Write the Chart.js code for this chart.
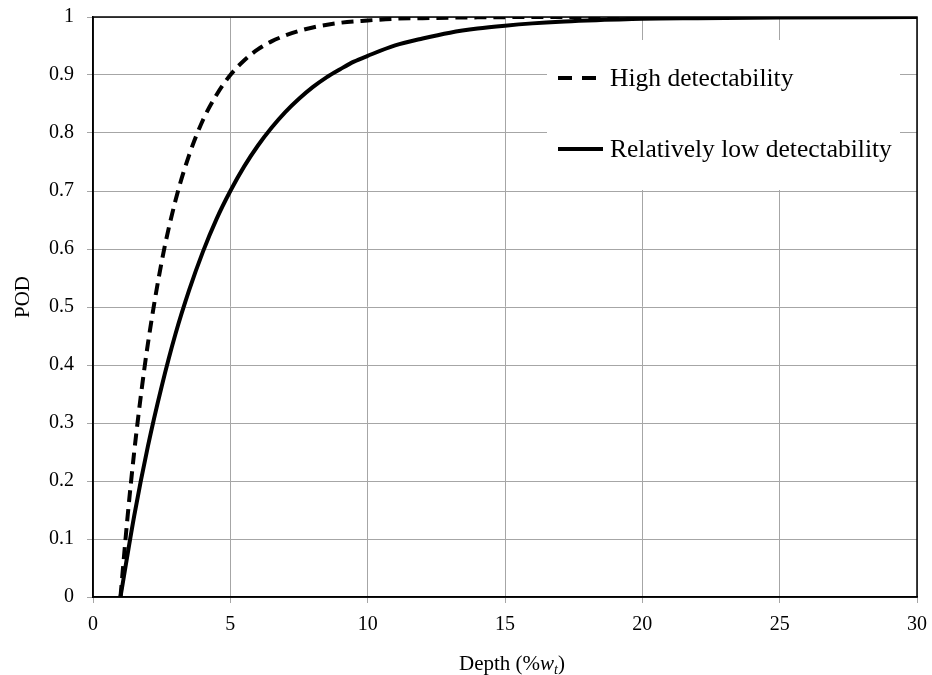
<!DOCTYPE html>
<html>
<head>
<meta charset="utf-8">
<script src="https://cdn.jsdelivr.net/npm/chart.js@4.4.1/dist/chart.umd.min.js"></script>
<style>
  html, body { margin: 0; padding: 0; background: #fff; }
  #wrap { width: 932px; height: 675px; }
</style>
</head>
<body>
<div id="wrap"><canvas id="chart-pod" width="932" height="675"></canvas></div>
<script>
// ── DATA ──
const highDepth = [1, 1.25, 1.5, 1.75, 2, 2.5, 3, 3.5, 4, 4.5, 5, 5.5, 6, 6.5, 7, 7.5, 8, 9, 10, 11, 12, 14, 17, 30];
const highPod   = [0, 0.134, 0.25, 0.35, 0.437, 0.578, 0.683, 0.762, 0.822, 0.866, 0.90, 0.925, 0.944, 0.958, 0.968, 0.976, 0.982, 0.99, 0.994, 0.997, 0.998, 0.9994, 1, 1];

const lowDepth = [1, 1.5, 2, 2.5, 3, 3.5, 4, 4.5, 5, 5.5, 6, 6.5, 7, 7.5, 8, 8.5, 9, 9.5, 10, 11, 12, 13, 14, 15, 16, 17, 18, 20, 22, 25, 30];
const lowPod   = [0, 0.14, 0.26, 0.363, 0.453, 0.529, 0.595, 0.652, 0.70, 0.742, 0.778, 0.809, 0.836, 0.859, 0.879, 0.896, 0.91, 0.923, 0.933, 0.951, 0.963, 0.973, 0.98, 0.985, 0.989, 0.992, 0.994, 0.997, 0.998, 0.999, 1];

const seriesLabels = ['High detectability', 'Relatively low detectability'];
const yTitle = 'POD';
const xTitle = ['Depth (%', 'w', 't', ')'];

const SERIF = '"Liberation Serif", "Times New Roman", serif';
const GRID = '#a6a6a6';

function toPoints(xs, ys) {
    return xs.map((x, i) => ({ x: x, y: ys[i] }));
}

// ── PLUGIN: frame, legend box, axis titles ──
const decorations = {
    id: 'decorations',
    beforeDatasetsDraw(chart) {
        const ctx = chart.ctx;
        ctx.save();
        // legend box (white, covers gridlines)
        ctx.fillStyle = '#fff';
        ctx.fillRect(547, 40, 353, 150);
        chart.data.datasets.forEach((ds, i) => {
            const y = 78 + i * 71;
            ctx.beginPath();
            ctx.lineWidth = 4;
            ctx.strokeStyle = ds.borderColor;
            ctx.setLineDash(ds.borderDash && ds.borderDash.length ? [14, 10] : []);
            ctx.moveTo(558, y);
            ctx.lineTo(603, y);
            ctx.stroke();
            ctx.setLineDash([]);
            ctx.fillStyle = '#000';
            ctx.font = '25.5px ' + SERIF;
            ctx.textBaseline = 'middle';
            ctx.textAlign = 'left';
            ctx.fillText(ds.label, 610, y + 1);
        });
        ctx.restore();
    },
    afterDatasetsDraw(chart) {
        const ctx = chart.ctx;
        const a = chart.chartArea;
        ctx.save();
        ctx.strokeStyle = '#000';
        ctx.lineWidth = 1.5;
        ctx.strokeRect(a.left, a.top, a.right - a.left, a.bottom - a.top);

        // y title
        ctx.fillStyle = '#000';
        ctx.font = '21px ' + SERIF;
        ctx.textAlign = 'center';
        ctx.textBaseline = 'middle';
        ctx.translate(23, 297);
        ctx.rotate(-Math.PI / 2);
        ctx.fillText(yTitle, 0, 0);
        ctx.setTransform(1, 0, 0, 1, 0, 0);

        // x title with italic w and subscript t
        const base = 670;
        const fN = '21px ' + SERIF, fI = 'italic 21px ' + SERIF, fS = 'italic 14px ' + SERIF;
        const parts = [[xTitle[0], fN, 0], [xTitle[1], fI, 0], [xTitle[2], fS, 4], [xTitle[3], fN, 0]];
        let total = 0;
        parts.forEach(p => { ctx.font = p[1]; total += ctx.measureText(p[0]).width; });
        let x = 512 - total / 2;
        ctx.textAlign = 'left';
        ctx.textBaseline = 'alphabetic';
        parts.forEach(p => {
            ctx.font = p[1];
            ctx.fillText(p[0], x, base + p[2]);
            x += ctx.measureText(p[0]).width;
        });
        ctx.restore();
    }
};

const chart = new Chart(document.getElementById('chart-pod').getContext('2d'), {
    type: 'line',
    data: {
        datasets: [{
            label: seriesLabels[0],
            data: toPoints(highDepth, highPod),
            borderColor: '#000',
            borderWidth: 4,
            borderDash: [12, 7],
            pointRadius: 0,
            fill: false,
            cubicInterpolationMode: 'monotone'
        }, {
            label: seriesLabels[1],
            data: toPoints(lowDepth, lowPod),
            borderColor: '#000',
            borderWidth: 4,
            pointRadius: 0,
            fill: false,
            cubicInterpolationMode: 'monotone'
        }]
    },
    options: {
        responsive: false,
        animation: false,
        layout: { padding: { left: 0, top: 17, right: 15, bottom: 0 } },
        scales: {
            x: {
                type: 'linear',
                min: 0, max: 30,
                afterFit: s => { s.height = 78; s.paddingLeft = 0; s.paddingRight = 0; },
                ticks: { stepSize: 5, padding: 10, color: '#000', font: { family: SERIF, size: 20 } },
                grid: { color: GRID, lineWidth: 1, tickLength: 6 },
                border: { color: '#000', width: 1.5 }
            },
            y: {
                min: 0, max: 1,
                afterFit: s => { s.width = 93; s.paddingTop = 0; s.paddingBottom = 0; },
                ticks: {
                    stepSize: 0.1, padding: 13, color: '#000',
                    font: { family: SERIF, size: 20 },
                    callback: v => String(Number(v.toFixed(1)))
                },
                grid: { color: GRID, lineWidth: 1, tickLength: 6 },
                border: { color: '#000', width: 1.5 }
            }
        },
        plugins: {
            legend: { display: false },
            tooltip: { enabled: false }
        }
    },
    plugins: [decorations]
});
</script>
</body>
</html>
